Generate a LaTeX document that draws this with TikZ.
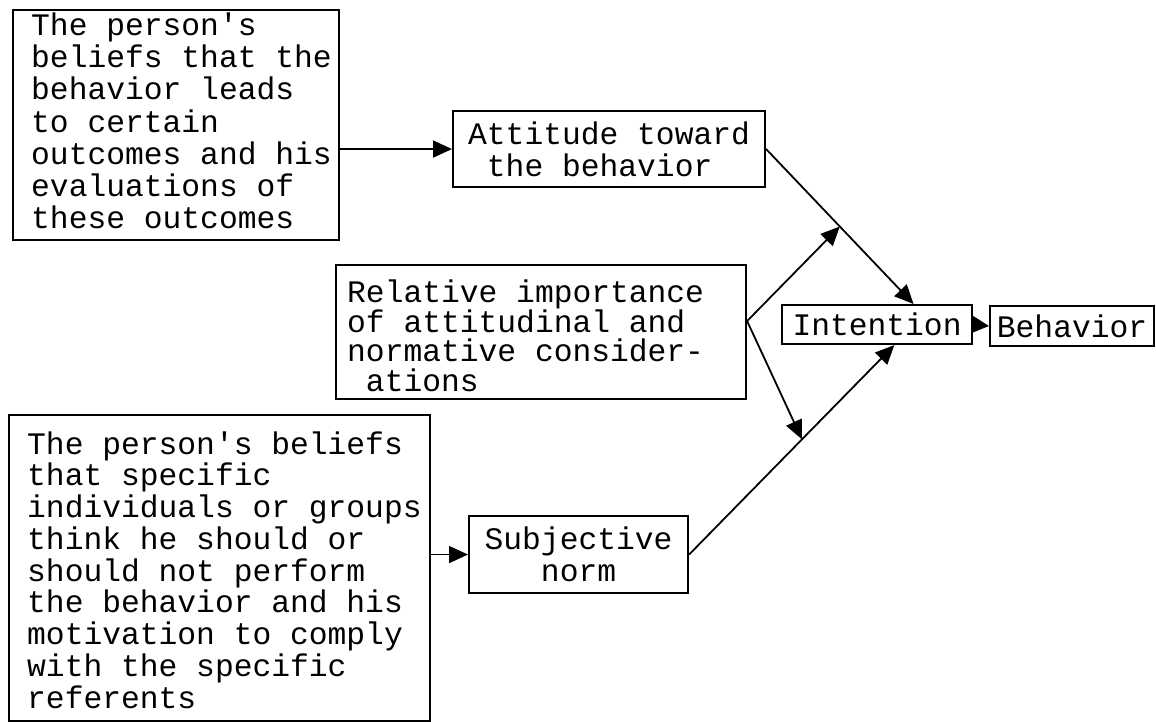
\documentclass[tikz,border=0pt]{standalone}
\usepackage{fontspec}
\setmainfont{Liberation Mono}
\usetikzlibrary{arrows.meta,calc}
\begin{document}
\begin{tikzpicture}[x=1pt,y=-1pt,
  box/.style={draw, line width=2.1pt, rectangle, inner sep=0pt, anchor=north west},
  mono/.style={font=\fontsize{31.3}{32.3}\selectfont},
  txt/.style={mono, inner sep=0pt, anchor=base west, align=left},
  conn/.style={line width=1.8pt, -{Triangle[length=19pt,width=17pt]}},
  shortconn/.style={line width=1.8pt, -{Triangle[length=17pt,width=17pt]}}]
\useasboundingbox (0,0) rectangle (1156,722);
% boxes
\node[box, minimum width=326pt, minimum height=230pt] (b1) at (12,9) {};
\node[box, mono, align=left, minimum width=312pt, minimum height=76pt] (att) at (452,110) {Attitude toward\\\hphantom{x}the behavior};
\node[box, minimum width=410pt, minimum height=134pt] (rel) at (335,264) {};
\node[box, mono, minimum width=190pt, minimum height=39pt] (int) at (781,304) {Intention};
\node[box, mono, minimum width=164pt, minimum height=40pt] (beh) at (989,305) {Behavior};
\node[box, mono, align=center, minimum width=219pt, minimum height=77pt] (sub) at (468,515) {Subjective\\norm};
\node[box, minimum width=421pt, minimum height=306pt] (b4) at (8,414) {};
% texts (base anchor = last line's baseline)
\node[txt] (b1t) at (31,229) {The person\textquotesingle s\\beliefs that the\\behavior leads\\to certain\\outcomes and his\\evaluations of\\these outcomes};
\node[txt, font=\fontsize{31.3}{29.5}\selectfont] (relt) at (347,391) {Relative importance\\of attitudinal and\\normative consider-\\\hphantom{x}ations};
\node[txt, font=\fontsize{31.3}{31.75}\selectfont] (b4t) at (27,708) {The person\textquotesingle s beliefs\\that specific\\individuals or groups\\think he should or\\should not perform\\the behavior and his\\motivation to comply\\with the specific\\referents};
% connectors
\coordinate (intA) at ($(int.north west)!0.69!(int.north east)$);
\coordinate (intB) at ($(int.south west)!0.59!(int.south east)$);
\coordinate (relJ) at ($(rel.east)+(0,-11)$);
\draw[conn] (b1.east |- att.west) -- (att.west);
\draw[conn] (att.east) -- (intA);
\draw[conn] (sub.east) -- (intB);
\draw[conn] (relJ) -- ($(att.east)!0.5!(intA)$);
\draw[conn] (relJ) -- ($(sub.east)!0.55!(intB)$);
\draw[conn] (b4.east |- sub.west) -- (sub.west);
\draw[shortconn] (int.east) -- (beh.west);
\end{tikzpicture}
\end{document}
